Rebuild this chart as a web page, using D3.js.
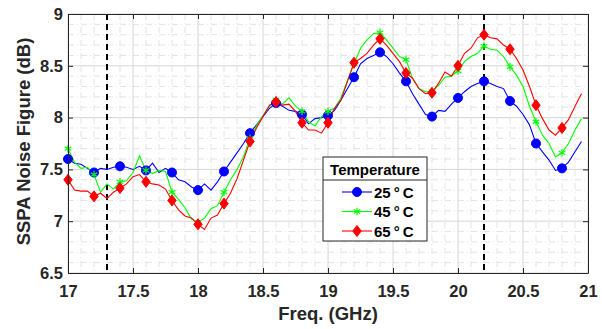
<!DOCTYPE html>
<html>
<head>
<meta charset="utf-8">
<script src="https://cdn.jsdelivr.net/npm/d3@7"></script>
<style>
  body { margin: 0; background: #fff; }
  svg { font-family: "Liberation Sans", Arial, sans-serif; }
  .tick text { font-size: 16.5px; font-weight: bold; fill: #262626; }
</style>
</head>
<body>
<div id="chart"></div>
<script>
// frequency grid of the traces (GHz), one point every 0.05 GHz
var freqs = d3.range(0, 80).map(function(i) { return +(17 + i * 0.05).toFixed(2); });

// noise figure (dB) per temperature
var nf25 = [7.60, 7.56, 7.55, 7.51, 7.47, 7.51, 7.50, 7.52, 7.53, 7.52,
            7.50, 7.53, 7.49, 7.56, 7.47, 7.51, 7.47, 7.40, 7.38, 7.33,
            7.30, 7.36, 7.30, 7.38, 7.48, 7.57, 7.66, 7.75, 7.85, 7.93,
            8.01, 8.09, 8.14, 8.11, 8.07, 8.06, 8.03, 7.94, 7.99, 8.00,
            8.02, 8.07, 8.17, 8.28, 8.39, 8.52, 8.57, 8.60, 8.63, 8.59,
            8.52, 8.43, 8.35, 8.23, 8.13, 8.03, 8.01, 8.07, 8.06, 8.13,
            8.19, 8.25, 8.30, 8.33, 8.35, 8.33, 8.30, 8.28, 8.16, 8.11,
            8.03, 7.93, 7.75, 7.67, 7.59, 7.49, 7.51, 7.57, 7.67, 7.77];
var nf45 = [7.70, 7.57, 7.51, 7.52, 7.45, 7.28, 7.36, 7.31, 7.38, 7.39,
            7.47, 7.63, 7.49, 7.46, 7.49, 7.48, 7.28, 7.21, 7.13, 7.02,
            6.99, 7.03, 7.12, 7.15, 7.28, 7.40, 7.50, 7.62, 7.80, 7.92,
            8.02, 8.11, 8.17, 8.13, 8.19, 8.11, 8.06, 7.96, 7.92, 8.01,
            8.06, 8.09, 8.19, 8.36, 8.52, 8.67, 8.75, 8.81, 8.82, 8.75,
            8.67, 8.59, 8.56, 8.38, 8.28, 8.25, 8.25, 8.31, 8.39, 8.40,
            8.45, 8.54, 8.59, 8.62, 8.69, 8.66, 8.65, 8.59, 8.49, 8.41,
            8.30, 8.11, 7.96, 7.83, 7.75, 7.62, 7.66, 7.75, 7.88, 7.99];
var nf65 = [7.40, 7.30, 7.29, 7.29, 7.24, 7.27, 7.22, 7.28, 7.32, 7.36,
            7.43, 7.45, 7.38, 7.36, 7.35, 7.31, 7.20, 7.11, 7.05, 7.03,
            6.97, 6.92, 7.03, 7.06, 7.17, 7.27, 7.41, 7.59, 7.77, 7.90,
            8.01, 8.12, 8.15, 8.12, 8.13, 8.06, 7.95, 7.88, 7.88, 7.85,
            7.95, 8.09, 8.17, 8.35, 8.53, 8.57, 8.62, 8.70, 8.76, 8.70,
            8.62, 8.54, 8.43, 8.38, 8.28, 8.23, 8.24, 8.33, 8.44, 8.40,
            8.50, 8.62, 8.67, 8.77, 8.80, 8.77, 8.76, 8.70, 8.66, 8.57,
            8.46, 8.30, 8.12, 7.99, 7.88, 7.83, 7.90, 7.98, 8.11, 8.23];

var seriesNames = ["25\u2009°\u2009C", "45\u2009°\u2009C", "65\u2009°\u2009C"];
var seriesColors = ["#0000ff", "#00ff00", "#ff0000"];
var markerEvery = 4; // a marker every 0.2 GHz
var bandEdges = [17.3, 20.2];
var xTicks = [17, 17.5, 18, 18.5, 19, 19.5, 20, 20.5, 21];
var yTicks = [6.5, 7, 7.5, 8, 8.5, 9];

var series = [nf25, nf45, nf65].map(function(vals, k) {
    return {
        name: seriesNames[k],
        color: seriesColors[k],
        shape: k,
        values: vals.map(function(v, i) { return { f: freqs[i], v: v }; })
    };
});

var canvas = { width: 602, height: 329 };
var margin = { left: 68, right: 14, top: 14, bottom: 56 };
var chart = {
    width: canvas.width - margin.left - margin.right,
    height: canvas.height - margin.top - margin.bottom
};

var svg = d3.select("#chart").append("svg")
    .attr("width", canvas.width)
    .attr("height", canvas.height)
    .append("g")
    .attr("transform", "translate(" + margin.left + "," + margin.top + ")");

var x = d3.scaleLinear().domain([17, 21]).range([0, chart.width]);
var y = d3.scaleLinear().domain([6.5, 9]).range([chart.height, 0]);

// minor grid (every 0.1)
var minorX = d3.range(17.1, 21, 0.1).filter(function(d) { return Math.abs(d * 2 - Math.round(d * 2)) > 1e-6; });
var minorY = d3.range(6.6, 9, 0.1).filter(function(d) { return Math.abs(d * 2 - Math.round(d * 2)) > 1e-6; });
var grid = svg.append("g");
grid.selectAll(".mx").data(minorX).enter().append("line")
    .attr("x1", function(d) { return x(d); }).attr("x2", function(d) { return x(d); })
    .attr("y1", 0).attr("y2", chart.height)
    .attr("stroke", "#e3e3e3").attr("stroke-dasharray", "6,3,1,3");
grid.selectAll(".my").data(minorY).enter().append("line")
    .attr("y1", function(d) { return y(d); }).attr("y2", function(d) { return y(d); })
    .attr("x1", 0).attr("x2", chart.width)
    .attr("stroke", "#e3e3e3").attr("stroke-dasharray", "6,3,1,3");
// major grid
grid.selectAll(".gx").data(xTicks).enter().append("line")
    .attr("x1", function(d) { return x(d); }).attr("x2", function(d) { return x(d); })
    .attr("y1", 0).attr("y2", chart.height)
    .attr("stroke", "#d6d6d6");
grid.selectAll(".gy").data(yTicks).enter().append("line")
    .attr("y1", function(d) { return y(d); }).attr("y2", function(d) { return y(d); })
    .attr("x1", 0).attr("x2", chart.width)
    .attr("stroke", "#d6d6d6");

// dashed band edges
svg.selectAll(".edge").data(bandEdges).enter().append("line")
    .attr("x1", function(d) { return x(d); }).attr("x2", function(d) { return x(d); })
    .attr("y1", 0).attr("y2", chart.height)
    .attr("stroke", "#000").attr("stroke-width", 2).attr("stroke-dasharray", "6,4");

// lines
var line = d3.line()
    .x(function(d) { return x(d.f); })
    .y(function(d) { return y(d.v); });

svg.selectAll(".trace").data(series).enter().append("path")
    .attr("d", function(d) { return line(d.values); })
    .attr("fill", "none")
    .attr("stroke", function(d) { return d.color; })
    .attr("stroke-width", 1.1);

// marker shapes
function marker(sel, s) {
    if (s.shape === 0) {
        sel.append("circle").attr("r", 4.5).attr("fill", s.color).attr("stroke", s.color);
    } else if (s.shape === 1) {
        sel.append("path").attr("d", d3.symbol().type(d3.symbolAsterisk).size(40)())
            .attr("fill", "none").attr("stroke", s.color).attr("stroke-width", 1.2);
    } else {
        sel.append("path").attr("d", "M0,-5.5L4.2,0L0,5.5L-4.2,0Z")
            .attr("fill", s.color).attr("stroke", s.color);
    }
}

series.forEach(function(s) {
    var pts = s.values.filter(function(d, i) { return i % markerEvery === 0; });
    svg.append("g").selectAll("g").data(pts).enter().append("g")
        .attr("transform", function(d) { return "translate(" + x(d.f) + "," + y(d.v) + ")"; })
        .each(function() { marker(d3.select(this), s); });
});

// axes (ticks inside, box style)
var fmt = function(d) { return d3.format("~g")(d); };
svg.append("g").attr("transform", "translate(0," + chart.height + ")")
    .call(d3.axisBottom(x).tickValues(xTicks).tickFormat(fmt).tickSizeInner(-5).tickSizeOuter(0).tickPadding(12));
svg.append("g")
    .call(d3.axisLeft(y).tickValues(yTicks).tickFormat(fmt).tickSizeInner(-5).tickSizeOuter(0).tickPadding(5));
svg.append("g")
    .call(d3.axisTop(x).tickValues(xTicks).tickFormat("").tickSizeInner(-5).tickSizeOuter(0));
svg.append("g").attr("transform", "translate(" + chart.width + ",0)")
    .call(d3.axisRight(y).tickValues(yTicks).tickFormat("").tickSizeInner(-5).tickSizeOuter(0));
svg.selectAll(".domain, .tick line").attr("stroke", "#262626");

// axis labels
svg.append("text")
    .attr("x", chart.width / 2).attr("y", chart.height + 47)
    .attr("text-anchor", "middle")
    .style("font-size", "18.5px").style("font-weight", "bold").attr("fill", "#262626")
    .text("Freq. (GHz)");
svg.append("text")
    .attr("transform", "translate(" + (-38) + "," + (chart.height / 2 - 2) + ") rotate(-90)")
    .attr("text-anchor", "middle")
    .style("font-size", "18.5px").style("font-weight", "bold").attr("fill", "#262626")
    .text("SSPA Noise Figure (dB)");

// legend
var lg = svg.append("g").attr("transform", "translate(" + (323 - margin.left) + "," + (157 - margin.top) + ")");
lg.append("rect").attr("width", 104).attr("height", 84)
    .attr("fill", "#fff").attr("stroke", "#262626");
lg.append("line").attr("x1", 0).attr("x2", 104).attr("y1", 23).attr("y2", 23).attr("stroke", "#262626");
lg.append("text").attr("x", 52).attr("y", 17.5).attr("text-anchor", "middle")
    .style("font-size", "15px").style("font-weight", "bold").attr("fill", "#000")
    .text("Temperature");
var items = lg.selectAll(".item").data(series).enter().append("g")
    .attr("transform", function(d, i) { return "translate(0," + (35 + i * 19.5) + ")"; });
items.append("line").attr("x1", 19).attr("x2", 49)
    .attr("stroke", function(d) { return d.color; }).attr("stroke-width", 1.1);
items.each(function(d) {
    var g = d3.select(this).append("g").attr("transform", "translate(34,0)");
    marker(g, d);
});
items.append("text").attr("x", 51).attr("y", 5.5)
    .style("font-size", "15px").style("font-weight", "bold").attr("fill", "#000")
    .text(function(d) { return d.name; });
</script>
</body>
</html>
